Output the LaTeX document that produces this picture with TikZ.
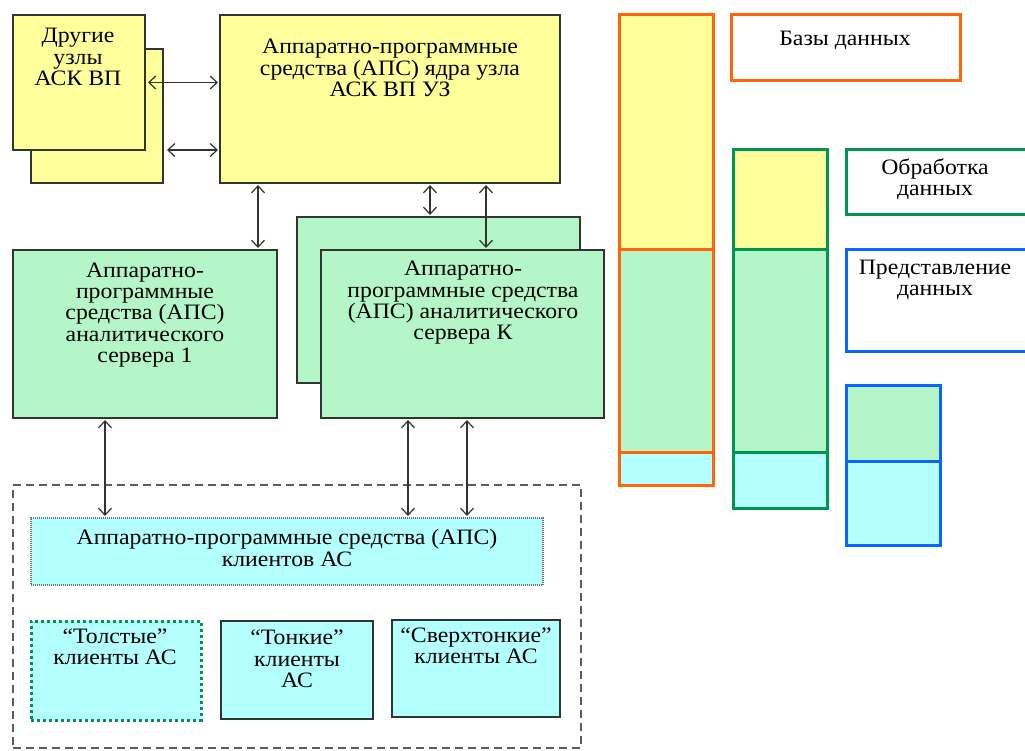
\documentclass[tikz,border=0pt]{standalone}
\usepackage{fontspec}
\setmainfont{Liberation Serif}[FakeStretch=1.08]
\usetikzlibrary{arrows.meta}
\definecolor{ylw}{RGB}{255,255,155}
\definecolor{grn}{RGB}{180,246,200}
\definecolor{cyn}{RGB}{180,255,255}
\definecolor{orng}{RGB}{255,102,10}
\definecolor{dgrn}{RGB}{0,150,80}
\definecolor{blu}{RGB}{10,100,255}
\definecolor{edge}{RGB}{45,55,45}
\tikzset{
 box/.style={draw=edge, line width=1.2pt, anchor=north west, inner sep=0pt, outer sep=0pt},
 txt/.style={align=center, anchor=center, font=\fontsize{22}{21.3}\selectfont, inner sep=0pt},
 link/.style={draw=edge, line width=1.2pt, shorten <=2pt, shorten >=2pt,
   {Straight Barb[length=7pt,width=13pt]}-{Straight Barb[length=7pt,width=13pt]}},
 colline/.style={line width=3pt},
}
\begin{document}
\begin{tikzpicture}[x=1pt,y=-1pt]
\useasboundingbox (0,0) rectangle (1025,751);
\fill[white] (0,0) rectangle (1025,751);
% other nodes
\node[box, fill=ylw, minimum width=132pt, minimum height=134pt] (o2) at (31,49) {};
\node[box, fill=ylw, minimum width=132pt, minimum height=135pt] (o1) at (13,15) {};
\node[txt] (to1) at (78,57) {Другие\\узлы\\АСК ВП};
% core
\node[box, fill=ylw, minimum width=340pt, minimum height=168pt] (core) at (220,15) {};
\node[txt] (tcore) at (390,68) {Аппаратно-программные\\средства (АПС) ядра узла\\АСК ВП УЗ};
% servers
\node[box, fill=grn, minimum width=264pt, minimum height=168pt] (s1) at (13,250) {};
\node[txt] (ts1) at (145,315) {Аппаратно-\\программные\\средства (АПС)\\аналитического\\сервера 1};
\node[box, fill=grn, minimum width=283pt, minimum height=166pt] (skb) at (297,217) {};
\node[box, fill=grn, minimum width=283pt, minimum height=168pt] (sk) at (321,250) {};
\node[txt] (tsk) at (463,303) {Аппаратно-\\программные средства\\(АПС) аналитического\\сервера К};
% clients
\node[box, draw=edge!80, dashed, dash pattern=on 8pt off 5pt, line width=1.5pt, minimum width=568pt, minimum height=263pt] (cl) at (13,485) {};
\node[box, fill=cyn, draw=edge!70, dash pattern=on 1pt off 1pt, minimum width=512pt, minimum height=67pt] (capc) at (31,518) {};
\node[txt] (tcapc) at (287,548) {Аппаратно-программные средства (АПС)\\клиентов АС};
\node[box, fill=cyn, draw=dgrn, line width=3pt, dash pattern=on 3pt off 3pt, minimum width=170pt, minimum height=99pt] (thick) at (31,621) {};
\node[txt] (tthick) at (115,647) {“Толстые”\\клиенты АС};
\node[box, fill=cyn, minimum width=152pt, minimum height=98pt] (thin) at (221,621) {};
\node[txt] (tthin) at (297,659) {“Тонкие”\\клиенты\\АС};
\node[box, fill=cyn, minimum width=168pt, minimum height=97pt] (sthin) at (392,620) {};
\node[txt] (tsthin) at (476,646) {“Сверхтонкие”\\клиенты АС};
% links
\draw[link] ([xshift=1pt]o1.east) -- (core.west |- o1.east);
\draw[link] ([xshift=2pt]o2.east |- o1.south) -- (core.west |- o1.south);
\draw[link] ([xshift=-19pt]s1.north east |- core.south) -- ([xshift=-19pt]s1.north east);
\draw[link] ([xshift=133pt]skb.north west |- core.south) -- ([xshift=133pt]skb.north west);
\draw[link] ([xshift=165pt]sk.north west |- core.south) -- ([xshift=165pt]sk.north west);
\draw[link] ([xshift=92pt]s1.south west) -- ([xshift=92pt]s1.south west |- capc.north);
\draw[link] ([xshift=87pt]sk.south west) -- ([xshift=87pt]sk.south west |- capc.north);
\draw[link] ([xshift=146pt]sk.south west) -- ([xshift=146pt]sk.south west |- capc.north);
% right columns
\fill[ylw] (619,15) rectangle (713,250);
\fill[grn] (619,250) rectangle (713,452);
\fill[cyn] (619,452) rectangle (713,485);
\draw[orng, colline] (619,15) rectangle (713,485) (619,250) -- (713,250) (619,452) -- (713,452);
\fill[ylw] (733,150) rectangle (827,250);
\fill[grn] (733,250) rectangle (827,452);
\fill[cyn] (733,452) rectangle (827,508);
\draw[dgrn, colline] (733,150) rectangle (827,508) (733,250) -- (827,250) (733,452) -- (827,452);
\fill[grn] (846,385) rectangle (940,461);
\fill[cyn] (846,461) rectangle (940,545);
\draw[blu, colline] (846,385) rectangle (940,545) (846,461) -- (940,461);
% legend
\node[box, draw=orng, line width=3pt, minimum width=229pt, minimum height=66pt] (lbd) at (731,15) {};
\node[txt] (tlbd) at (845,40) {Базы данных};
\node[box, draw=dgrn, line width=3pt, minimum width=190pt, minimum height=65pt] (lod) at (846,150) {};
\node[txt] (tlod) at (935,179) {Обработка\\данных};
\node[box, draw=blu, line width=3pt, minimum width=190pt, minimum height=101pt] (lpd) at (846,250) {};
\node[txt] (tlpd) at (935,280) {Представление\\данных};
\end{tikzpicture}
\end{document}
